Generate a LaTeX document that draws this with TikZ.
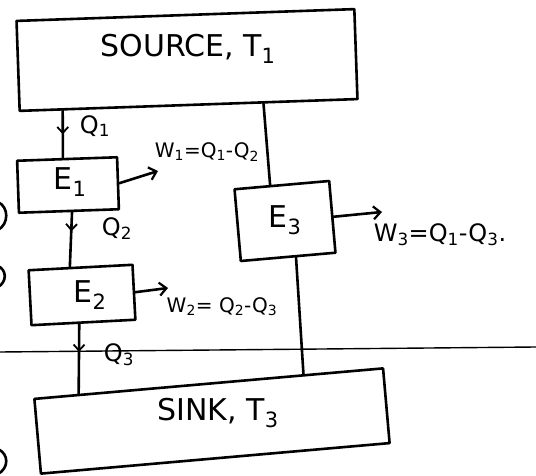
\documentclass[tikz,border=0pt]{standalone}
\usepackage{fontspec}
\setmainfont{DejaVu Sans}
\usetikzlibrary{arrows.meta,calc,decorations.markings}
\begin{document}
\begin{tikzpicture}[x=1pt,y=-1pt,
  ink/.style={line width=2.6pt, line cap=round, line join=round},
  boxnode/.style={ink, draw, fill=white, rectangle, inner sep=0pt},
  flow/.style={ink, postaction={decorate}, decoration={markings,
      mark=at position #1 with {\arrow[line width=1.8pt]{Straight Barb[length=6pt,width=11pt]}}}},
  work/.style={ink, -{Straight Barb[length=7pt,width=13pt,line width=2.2pt]}},
  big/.style={inner sep=0pt, font=\fontsize{30}{32}\selectfont},
  mid/.style={inner sep=0pt, font=\fontsize{24}{26}\selectfont},
  small/.style={inner sep=0pt, font=\fontsize{20}{22}\selectfont},
]
\useasboundingbox (0,0) rectangle (536,476);

% page rule running across the sheet
\coordinate (ruleL) at (0,352);
\coordinate (ruleR) at (536,347);
\draw[line width=1.4pt] (ruleL) -- (ruleR);

% reservoirs and engines
\node[boxnode, minimum width=338pt, minimum height=90pt, rotate=2] (src) at (187,60) {};
\node[boxnode, minimum width=350pt, minimum height=75pt, rotate=5] (sink) at (212,421) {};
\node[boxnode, minimum width=100pt, minimum height=52pt, rotate=2] (E1) at (68,185) {};
\node[boxnode, minimum width=104pt, minimum height=55pt, rotate=3] (E2) at (82,295) {};
\node[boxnode, minimum width=95pt, minimum height=72pt, rotate=5] (E3) at (285,221) {};

\node[big] (srcT) at (188,49) {SOURCE, T\textsubscript{1}};
\node[big] (sinkT) at (218,413) {SINK, T\textsubscript{3}};
\node[big] (E1T) at (70,182) {E\textsubscript{1}};
\node[big] (E2T) at (90,295) {E\textsubscript{2}};
\node[big] (E3T) at (285,220) {E\textsubscript{3}};

% heat flows
\draw[flow=0.5] ($(src.south west)!0.13!(src.south east)$) -- ($(E1.north west)!0.46!(E1.north east)$);
\draw[flow=0.35] ($(E1.south west)!0.53!(E1.south east)$) -- ($(E2.north west)!0.4!(E2.north east)$);
\draw[flow=0.4] ($(E2.south west)!0.46!(E2.south east)$) -- ($(sink.north west)!0.13!(sink.north east)$);
\draw[ink] ($(src.south west)!0.72!(src.south east)$) -- ($(E3.north west)!0.38!(E3.north east)$);
\draw[ink] ($(E3.south west)!0.58!(E3.south east)$) -- ($(sink.north west)!0.77!(sink.north east)$);

\node[mid] (q1) at (95,126) {Q\textsubscript{1}};
\node[mid] (q2) at (117,229) {Q\textsubscript{2}};
\node[mid] (q3) at (119,355) {Q\textsubscript{3}};

% work outputs
\coordinate (w1) at (158,171);
\coordinate (w2) at (168,288);
\coordinate (w3) at (382,212);
\draw[work] (E1.east) -- (w1);
\draw[work] (E2.east) -- (w2);
\draw[work] (E3.east) -- (w3);
\node[small] (w1T) at (207,152) {W\textsubscript{1}=Q\textsubscript{1}-Q\textsubscript{2}};
\node[small] (w2T) at (222,307) {W\textsubscript{2}= Q\textsubscript{2}-Q\textsubscript{3}};
\node[mid] (w3T) at (440,235) {W\textsubscript{3}=Q\textsubscript{1}-Q\textsubscript{3}.};

% strokes cut off at the left edge of the sheet
\draw[ink] (-2,202) .. controls (9,207) and (9,224) .. (-2,230);
\draw[ink] (-2,266) .. controls (7,270) and (7,282) .. (-2,287);
\draw[ink] (-2,449) .. controls (9,454) and (9,468) .. (-2,474);
\end{tikzpicture}
\end{document}
